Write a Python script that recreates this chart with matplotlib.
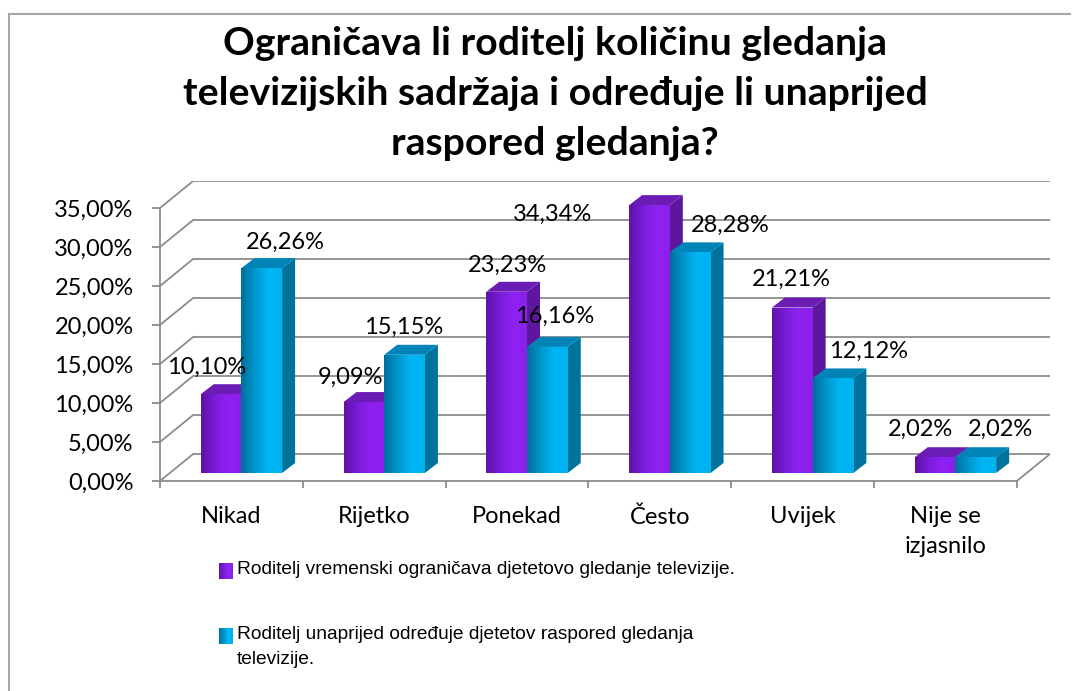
import numpy as np
import matplotlib
matplotlib.use("Agg")
import matplotlib.pyplot as plt
from matplotlib.colors import LinearSegmentedColormap
from matplotlib.lines import Line2D
from matplotlib.patches import Polygon, Rectangle

categories = ["Nikad", "Rijetko", "Ponekad", "Često", "Uvijek", "Nije se\nizjasnilo"]
ogranicava = [10.10, 9.09, 23.23, 34.34, 21.21, 2.02]
rasporeduje = [26.26, 15.15, 16.16, 28.28, 12.12, 2.02]
series_names = [
    "Roditelj vremenski ograničava djetetovo gledanje televizije.",
    "Roditelj unaprijed određuje djetetov raspored gledanja\ntelevizije.",
]
yticks = [0, 5, 10, 15, 20, 25, 30, 35]
title = ("Ograničava li roditelj količinu gledanja\n"
         "televizijskih sadržaja i određuje li unaprijed\n"
         "raspored gledanja?")

# label nudges (pixels) - excel moves them around a bit
offs_a = [(-14, 27), (-13, 25), (1, 26), (-97, -9), (-1, 28), (-15, 28)]
offs_b = [(24, 26), (-1, 27), (7, 31), (40, 27), (36, 27), (25, 28)]

# fake 3d look, offsets in data units (x: categories, y: percent)
WALL_DX, WALL_DY = 0.232, 3.46
BAR_DX, BAR_DY = 0.07, 1.03
SIDE_DX, SIDE_DY = 0.091, 1.28
BAR_W = 0.285

GRID = "#8c8c8c"
MAIN_FONT = ["Lato", "DejaVu Sans"]
LEG_FONT = ["Liberation Sans", "DejaVu Sans"]

purple = dict(front=LinearSegmentedColormap.from_list("p", ["#5e12a6", "#7a1cd8", "#8f22f2", "#8a20ea"]),
              side="#5d179f", top="#6a1cb4")
blue = dict(front=LinearSegmentedColormap.from_list("b", ["#006e9c", "#0096cc", "#00b6f4", "#00b2ee"]),
            side="#00739c", top="#0084b8")


def pct(v):
    return f"{v:.2f}%".replace(".", ",")


def draw_series(ax, xs, vals, style, z):
    bars = ax.bar(xs, vals, BAR_W, bottom=BAR_DY, color=style["front"](0.6),
                  linewidth=0, zorder=z + 1)
    grad = np.linspace(0, 1, 64).reshape(1, -1)
    for r in bars:
        x0, y0, w, h = r.get_x(), r.get_y(), r.get_width(), r.get_height()
        side = Polygon([(x0 + w, y0), (x0 + w + SIDE_DX, y0 + SIDE_DY),
                        (x0 + w + SIDE_DX, y0 + h + SIDE_DY), (x0 + w, y0 + h)],
                       closed=True, fc=style["side"], ec="none", zorder=z)
        top = Polygon([(x0, y0 + h), (x0 + w, y0 + h),
                       (x0 + w + SIDE_DX, y0 + h + SIDE_DY), (x0 + SIDE_DX, y0 + h + SIDE_DY)],
                      closed=True, fc=style["top"], ec="none", zorder=z)
        ax.add_patch(side)
        ax.add_patch(top)
        im = ax.imshow(grad, cmap=style["front"], extent=[x0, x0 + w, y0, y0 + h],
                       aspect="auto", interpolation="bilinear", zorder=z + 1.5)
        im.set_clip_path(r)
    return bars


fig = plt.figure(figsize=(10.79, 6.91), dpi=100)
W, H = 1079, 691
ax = fig.add_axes([160 / W, (H - 481) / H, 890 / W, 300 / H])

n = len(categories)
x = np.arange(n)

# back wall + left wall grid
for t in yticks:
    ax.plot([-0.5 + WALL_DX, n - 0.5 + WALL_DX], [t + WALL_DY, t + WALL_DY],
            color=GRID, lw=1.3, zorder=1, solid_capstyle="butt")
    ax.plot([-0.5, -0.5 + WALL_DX], [t, t + WALL_DY], color=GRID, lw=1.3, zorder=1)
# right edge of the floor
ax.plot([n - 0.5, n - 0.5 + WALL_DX], [0, WALL_DY], color=GRID, lw=1.3, zorder=1)

bars_a = draw_series(ax, x + BAR_DX - BAR_W / 2, ogranicava, purple, 2)
bars_b = draw_series(ax, x + BAR_DX + BAR_W / 2, rasporeduje, blue, 4)

for bars, vals, offs in [(bars_a, ogranicava, offs_a), (bars_b, rasporeduje, offs_b)]:
    for r, v, (dx, dy) in zip(bars, vals, offs):
        ax.annotate(pct(v), xy=(r.get_x() + r.get_width() / 2, r.get_y() + r.get_height()),
                    xytext=(dx, dy), textcoords="offset pixels", ha="center", va="center",
                    fontsize=17, family=MAIN_FONT, color="black", zorder=10)

ax.set_xlim(-0.5, n - 0.5 + WALL_DX)
ax.set_ylim(0, yticks[-1] + WALL_DY)

for s in ["top", "right"]:
    ax.spines[s].set_visible(False)
for s in ["left", "bottom"]:
    ax.spines[s].set_color(GRID)
    ax.spines[s].set_linewidth(1.3)
ax.spines["left"].set_bounds(0, yticks[-1])
ax.spines["bottom"].set_bounds(-0.5, n - 0.5)

ax.set_yticks(yticks)
ax.set_yticklabels([pct(t) for t in yticks], family=MAIN_FONT, fontsize=17)
ax.tick_params(axis="y", length=6, width=1.3, color=GRID, pad=13)

ax.set_xticks(x)
ax.set_xticklabels(categories, family=MAIN_FONT, fontsize=17)
ax.set_xticks(np.arange(n + 1) - 0.5, minor=True)
ax.tick_params(axis="x", which="major", length=0, pad=18)
ax.tick_params(axis="x", which="minor", length=5, width=1.3, color=GRID)
ax.get_xticklabels()[-1].set_linespacing(1.55)

fig.text(555 / W, 1 - 26 / H, title, ha="center", va="top", fontsize=28.3,
         fontweight="bold", family=MAIN_FONT, linespacing=1.52)

# legend, laid out by hand so the square sits on the first line
for name, style, top_px in [(series_names[0], purple, 563), (series_names[1], blue, 628)]:
    strips = 12
    for i in range(strips):
        fig.add_artist(Rectangle(((219 + 14 * i / strips) / W, 1 - (top_px + 16) / H),
                                 14 / strips / W, 16 / H, transform=fig.transFigure,
                                 facecolor=style["front"]((i + 0.5) / strips), edgecolor="none"))
    fig.text(237 / W, 1 - (top_px - 2) / H, name, ha="left", va="top", fontsize=13.8,
             family=LEG_FONT, linespacing=1.6)

# outer chart frame
fig.add_artist(Line2D([9 / W, 9 / W], [0, 1 - 14 / H], transform=fig.transFigure,
                      color="#a6a6a6", lw=1.5))
fig.add_artist(Line2D([9 / W, 1070 / W], [1 - 14 / H, 1 - 14 / H],
                      transform=fig.transFigure, color="#a6a6a6", lw=1.5))

fig.savefig("out.png", dpi=100)
